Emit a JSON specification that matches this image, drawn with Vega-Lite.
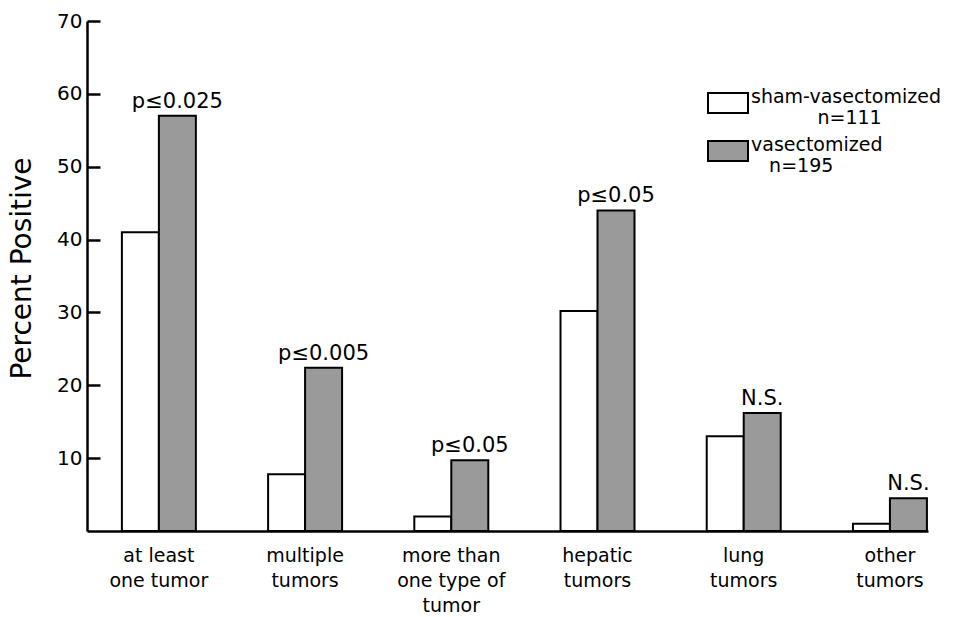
{
  "$schema": "https://vega.github.io/schema/vega-lite/v6.json",
  "width": 841,
  "height": 510,
  "autosize": {"type": "none"},
  "padding": {"left": 87, "top": 21, "right": 35, "bottom": 86},
  "background": "white",
  "config": {
    "view": {"stroke": null},
    "font": "DejaVu Sans",
    "axis": {
      "domainColor": "black",
      "domainWidth": 2.5,
      "tickColor": "black",
      "tickWidth": 2.5,
      "labelColor": "black",
      "titleColor": "black",
      "grid": false
    }
  },
  "data": {
    "values": [
      {"cat": "at least one tumor", "group": "sham-vasectomized", "pct": 41},
      {"cat": "at least one tumor", "group": "vasectomized", "pct": 57, "sig": "p≤0.025"},
      {"cat": "multiple tumors", "group": "sham-vasectomized", "pct": 7.8},
      {"cat": "multiple tumors", "group": "vasectomized", "pct": 22.4, "sig": "p≤0.005"},
      {"cat": "more than one type of tumor", "group": "sham-vasectomized", "pct": 2},
      {"cat": "more than one type of tumor", "group": "vasectomized", "pct": 9.7, "sig": "p≤0.05"},
      {"cat": "hepatic tumors", "group": "sham-vasectomized", "pct": 30.2},
      {"cat": "hepatic tumors", "group": "vasectomized", "pct": 44, "sig": "p≤0.05"},
      {"cat": "lung tumors", "group": "sham-vasectomized", "pct": 13},
      {"cat": "lung tumors", "group": "vasectomized", "pct": 16.2, "sig": "N.S."},
      {"cat": "other tumors", "group": "sham-vasectomized", "pct": 1},
      {"cat": "other tumors", "group": "vasectomized", "pct": 4.5, "sig": "N.S."}
    ]
  },
  "encoding": {
    "x": {
      "field": "cat",
      "type": "nominal",
      "sort": null,
      "scale": {"paddingInner": 0.494, "paddingOuter": 0.123, "align": 0.97},
      "axis": {
        "title": null,
        "ticks": false,
        "labelAngle": 0,
        "labelFontSize": 19,
        "labelLineHeight": 25,
        "labelPadding": 15,
        "labelExpr": "datum.value == 'at least one tumor' ? ['at least', 'one tumor'] : datum.value == 'multiple tumors' ? ['multiple', 'tumors'] : datum.value == 'more than one type of tumor' ? ['more than', 'one type of', 'tumor'] : datum.value == 'hepatic tumors' ? ['hepatic', 'tumors'] : datum.value == 'lung tumors' ? ['lung', 'tumors'] : ['other', 'tumors']"
      }
    },
    "xOffset": {
      "field": "group",
      "type": "nominal",
      "sort": ["sham-vasectomized", "vasectomized"],
      "scale": {"paddingInner": 0, "paddingOuter": 0}
    },
    "y": {
      "field": "pct",
      "type": "quantitative",
      "scale": {"domain": [0, 70], "nice": false},
      "axis": {
        "title": "Percent Positive",
        "titleFontSize": 28,
        "titleFontWeight": "normal",
        "titleAngle": -90,
        "titleX": -65,
        "titleY": 247,
        "titleAlign": "center",
        "titleBaseline": "middle",
        "values": [10, 20, 30, 40, 50, 60, 70],
        "tickSize": -13,
        "labelFontSize": 20,
        "labelPadding": 18
      }
    }
  },
  "layer": [
    {
      "mark": {"type": "bar", "stroke": "black", "strokeWidth": 2},
      "encoding": {
        "fill": {
          "field": "group",
          "type": "nominal",
          "scale": {"domain": ["sham-vasectomized", "vasectomized"], "range": ["white", "#9a9a9a"]},
          "legend": {
            "orient": "none",
            "legendX": 620,
            "legendY": 61,
            "title": null,
            "padding": 0,
            "symbolType": "M-1,-0.5H1V0.5H-1Z",
            "symbolSize": 1600,
            "symbolStrokeColor": "black",
            "symbolStrokeWidth": 2,
            "symbolOpacity": 1,
            "labelFontSize": 19,
            "labelColor": "black",
            "labelLineHeight": 20,
            "labelOffset": 2,
            "labelLimit": 300,
            "labelBaseline": "alphabetic",
            "rowPadding": 2,
            "labelExpr": "datum.label == 'sham-vasectomized' ? ['sham-vasectomized', '\u200b\u00a0\u00a0\u00a0\u00a0\u00a0\u00a0\u00a0\u00a0\u00a0\u00a0\u00a0n=111'] : ['vasectomized', '\u200b\u00a0\u00a0\u00a0n=195']"
          }
        }
      }
    },
    {
      "transform": [{"filter": "datum.sig"}],
      "mark": {"type": "text", "dy": -8, "baseline": "alphabetic", "fontSize": 21, "color": "black"},
      "encoding": {"text": {"field": "sig"}}
    }
  ]
}
